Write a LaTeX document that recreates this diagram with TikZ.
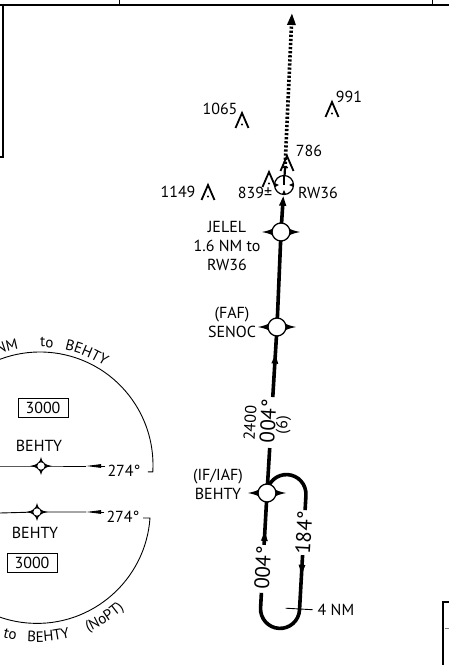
\documentclass[tikz,border=0pt]{standalone}
\usepackage{fontspec}
\setmainfont{PT Sans}
\usetikzlibrary{positioning, calc, arrows.meta, decorations.markings, decorations.text}

\newcommand\taafont{\fontsize{15}{17}\selectfont}

\tikzset{
	crsline/.style={line width=3.6pt},
	thinline/.style={line width=0.9pt},
	lbl/.style={font=\fontsize{16}{19}\selectfont, inner sep=0pt, align=center},
	crslbl/.style={font=\fontsize{21}{24}\selectfont, inner sep=0pt},
	midarrow/.style={postaction={decorate}, decoration={markings, mark=at position #1 with {\arrow{Triangle[length=10pt,width=6pt]}}}},
	fixbig/.pic={
		\fill (-19,0) .. controls (-8,2) and (-2,6) .. (0,12) .. controls (2,6) and (8,2) .. (19,0)
			.. controls (8,-2) and (2,-6) .. (0,-12) .. controls (-2,-6) and (-8,-2) .. cycle;
		\draw[fill=white, line width=1.3pt] (0,0) circle (9pt);
	},
	fixsmall/.pic={
		\fill (-11,0) .. controls (-4,1) and (-1,3.5) .. (0,9) .. controls (1,3.5) and (4,1) .. (11,0)
			.. controls (4,-1) and (1,-3.5) .. (0,-9) .. controls (-1,-3.5) and (-4,-1) .. cycle;
		\draw[fill=white, line width=0.8pt] (0,0) circle (4.2pt);
	},
	obst/.pic={
		\draw[line width=1.8pt, line join=miter] (-6.5,-15) -- (0,0) -- (6.5,-15);
		\fill (0,-11.5) circle (1.2pt);
	}
}

\begin{document}
\begin{tikzpicture}[x=1pt, y=1pt]
	\useasboundingbox (0,0) rectangle (449,665);
	\clip (0,0) rectangle (449,665);
	
	\def\crsang{86.7}
	\def\hold{19.5}
	
	% frame
	\draw[line width=2.6pt] (0,660) -- (449,660);
	\draw[thinline] (119,660) -- (119,665);
	\draw[thinline] (432,660) -- (432,665);
	\draw[line width=1.1pt] (3,661) -- (3,508) -- (0,508);
	\draw[line width=1.6pt] (449,63) -- (443,63) -- (443,0);
	\draw[line width=0.8pt, gray] (445,37) -- (449,37);
	
	% fixes
	\coordinate (iaf) at (267,172);
	\coordinate (senoc) at (277,338);
	\coordinate (jelel) at (281,433);
	\coordinate (rw36) at (284,480);
	\coordinate (mapt) at (292,652);
	
	% final approach course
	\draw[crsline] (iaf) -- ($(iaf)!0.271!(senoc)$);
	\draw[crsline, midarrow=0.62] ($(iaf)!0.578!(senoc)$) -- (senoc);
	\draw[crsline] (senoc) -- (jelel);
	\draw[crsline, -{Triangle[length=10pt,width=6.5pt]}] (jelel) -- ($(jelel)!0.77!(rw36)$);
	
	\node[crslbl, rotate=\crsang] (crs) at (268,244) {004°};
	\node[lbl, rotate=\crsang] (alt) at (250,242) {2400};
	\node[lbl, rotate=\crsang] (dist) at (283.5,240) {(6)};
	
	% missed approach
	\coordinate (mas) at (285,497);
	\draw[line width=2.2pt] (rw36) -- (mas);
	\draw[line width=3.6pt, dash pattern=on 2.2pt off 1.9pt, -{Triangle[length=12pt,width=8pt]}] (mas) -- (mapt);
	
	% holding
	\begin{scope}[shift={(iaf)}, rotate=-3.2]
		\draw[crsline, midarrow=0.27] (0,-52) -- (0,0);
		\draw[crsline] (0,0) arc[start angle=180, end angle=0, radius=\hold pt] -- (39,-15);
		\draw[crsline, midarrow=0.36] (39,-60) -- (39,-115);
		\draw[crsline] (39,-115) arc[start angle=0, end angle=-180, radius=\hold pt] -- (0,-100);
		\node[crslbl, rotate=\crsang] (inb) at (0,-75) {004°};
		\node[crslbl, rotate=\crsang] (outb) at (39,-37.5) {184°};
		\coordinate (tk1) at (25,-114);
		\coordinate (tk2) at (52,-114);
		\draw[thinline] (tk1) -- (tk2);
		\node[lbl, anchor=west] (legd) at ([xshift=5pt]tk2) {4 NM};
	\end{scope}
	
	\pic at (iaf) {fixbig};
	\pic at (senoc) {fixbig};
	\pic at (jelel) {fixbig};
	
	\node[lbl] (iaflbl) at (218,181) {(IF/IAF)\\BEHTY};
	\node[lbl] (faflbl) at (232,343) {(FAF)\\SENOC};
	\node[lbl] (jelellbl) at (227,419) {JELEL\\1.6 NM to\\RW36};
	
	% runway
	\draw[line width=1.2pt, fill=white] (rw36) circle (9.5pt);
	\foreach \a in {0,180,270}
		\fill[rotate around={\a:(rw36)}] ($(rw36)+(9.5,2)$) -- ($(rw36)+(9.5,-2)$) -- ($(rw36)+(5,0)$) -- cycle;
	\draw[line width=2pt] (rw36) -- ($(rw36)+(0,9.5)$);
	\node[lbl] (rwlbl) at (318,472) {RW36};
	
	% obstacles
	\pic at (242,552) {obst};
	\pic at (332,563) {obst};
	\pic at (287,509) {obst};
	\pic at (208,480) {obst};
	\pic at (269,493) {obst};
	\node[lbl] (ob1) at (220,556) {1065};
	\node[lbl] (ob2) at (349,568) {991};
	\node[lbl] (ob3) at (309,514) {786};
	\node[lbl] (ob4) at (178,473) {1149};
	\node[lbl] (ob5) at (255,472) {839±};
	
	% arrival areas
	\coordinate (c1) at (40,200);
	\coordinate (c2) at (37,155);
	\draw[thinline] (c1) ++(125:113pt) arc[start angle=125, end angle=-3.5, radius=113pt] -- ++(-5,0);
	\draw[thinline] (143,147) -- (150,147) arc[start angle=-4, end angle=-125, radius=113.3pt];
	
	\path[decorate, decoration={text along path, text={|\taafont|NM}}] (c1) ++(111:118pt) arc[start angle=111, end angle=70, radius=118pt];
	\path[decorate, decoration={text along path, text={|\taafont|to}}] (c1) ++(90:118pt) arc[start angle=90, end angle=60, radius=118pt];
	\path[decorate, decoration={text along path, text={|\taafont|BEHTY}}] (c1) ++(78:118pt) arc[start angle=78, end angle=30, radius=118pt];
	\path[decorate, decoration={text along path, text={|\taafont|to}}] (c2) ++(255:132pt) arc[start angle=255, end angle=285, radius=132pt];
	\path[decorate, decoration={text along path, text={|\taafont|BEHTY}}] (c2) ++(265.7:132pt) arc[start angle=265.7, end angle=305, radius=132pt];
	\path[decorate, decoration={text along path, text={|\taafont|(NoPT)}}] (c2) ++(292.7:132pt) arc[start angle=292.7, end angle=335, radius=132pt];
	
	\coordinate (f1) at (41,199);
	\coordinate (f2) at (37,153);
	\node[lbl] (t1) at (124,194) {274°};
	\node[lbl] (t2) at (123,148.5) {274°};
	\coordinate (a1) at (86,199);
	\coordinate (a2) at (86,153);
	\draw[thinline] (0,199) -- (f1) -- (a1);
	\draw[thinline, -{Triangle[length=15pt,width=3.5pt]}] ([xshift=-2pt]t1.west |- f1) -- (a1);
	\draw[thinline] (0,152) -- (f2) -- (a2);
	\draw[thinline, -{Triangle[length=15pt,width=3.5pt]}] ([xshift=-2pt]t2.west |- f2) -- (a2);
	\pic at (f1) {fixsmall};
	\pic at (f2) {fixsmall};
	
	\node[lbl] (b1) at (39,219) {BEHTY};
	\node[lbl] (b2) at (35,132) {BEHTY};
	\node[lbl, draw, line width=0.8pt, minimum width=50pt, minimum height=19pt] (m1) at (43,257.5) {3000};
	\node[lbl, draw, line width=0.8pt, minimum width=50pt, minimum height=19pt] (m2) at (32,102.5) {3000};
\end{tikzpicture}
\end{document}
